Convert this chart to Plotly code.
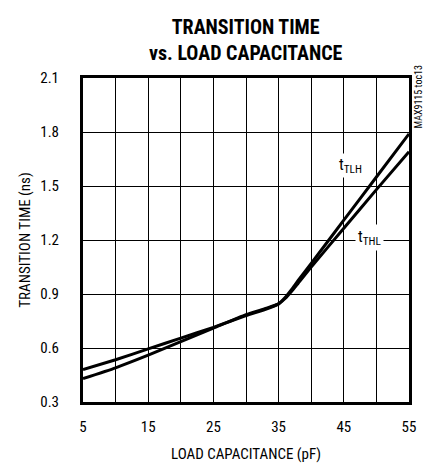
import plotly.graph_objects as go

# Data
load_pf = [5, 10, 15, 20, 25, 30, 33, 35, 36, 37, 38, 40, 45, 50, 55]
t_thl = [0.48, 0.535, 0.595, 0.655, 0.715, 0.78, 0.815, 0.845, 0.875, 0.915, 0.96, 1.05, 1.265, 1.48, 1.69]
t_tlh = [0.43, 0.49, 0.56, 0.635, 0.71, 0.785, 0.82, 0.845, 0.88, 0.925, 0.975, 1.07, 1.31, 1.55, 1.79]

x_ticks = [5, 15, 25, 35, 45, 55]
y_ticks = [0.3, 0.6, 0.9, 1.2, 1.5, 1.8, 2.1]
y_tick_text = ["0.3", "0.6", "0.9", "1.2", "1.5", "1.8", "2.1"]

FONT = "Roboto Condensed, Liberation Sans Narrow, Roboto, sans-serif"

fig = go.Figure()
for name, ys in [("tTHL", t_thl), ("tTLH", t_tlh)]:
    fig.add_trace(go.Scatter(
        x=load_pf, y=ys, mode="lines", name=name,
        line=dict(color="black", width=3, shape="spline", smoothing=0.5),
        showlegend=False, hoverinfo="skip"))

fig.update_layout(
    template="none",
    width=425, height=465,
    margin=dict(l=83, r=16, t=78, b=63),
    paper_bgcolor="white", plot_bgcolor="white",
    font=dict(family=FONT, size=15, color="black"),
    title=dict(
        text="<b>TRANSITION TIME<br>vs. LOAD CAPACITANCE</b>",
        x=0.578, xanchor="center", y=0.926, yanchor="top",
        font=dict(family=FONT, size=20, color="black", weight=900)),
)

fig.update_xaxes(
    range=[5, 55],
    tickvals=list(range(5, 56, 5)),
    ticktext=[str(v) if v in x_ticks else "" for v in range(5, 56, 5)],
    showgrid=True, gridcolor="black", gridwidth=1,
    showline=True, linecolor="black", linewidth=3, mirror=True,
    ticks="", ticklabelstandoff=9, zeroline=False, automargin=False,
    title=dict(text="LOAD CAPACITANCE (pF)", standoff=14, font=dict(size=15)),
    tickfont=dict(size=15))

fig.update_yaxes(
    range=[0.3, 2.1], tickvals=y_ticks, ticktext=y_tick_text,
    showgrid=True, gridcolor="black", gridwidth=1,
    showline=True, linecolor="black", linewidth=3, mirror=True,
    ticks="", ticklabelstandoff=18, zeroline=False, automargin=False,
    title=dict(text="TRANSITION TIME (ns)", standoff=6, font=dict(size=15)),
    tickfont=dict(size=15))

fig.add_annotation(x=46.1, y=1.615, text="t<sub>TLH</sub>", showarrow=False,
                   font=dict(size=16, color="black"), bgcolor="white",
                   xanchor="center", yanchor="middle")
fig.add_annotation(x=49.0, y=1.215, text="t<sub>THL</sub>", showarrow=False,
                   font=dict(size=16, color="black"), bgcolor="white",
                   borderpad=2, xanchor="center", yanchor="middle")
fig.add_annotation(xref="paper", yref="paper", x=1.0, y=0.94, xshift=9,
                   text="MAX9115 toc13", textangle=-90, showarrow=False,
                   font=dict(size=10, color="black"), xanchor="center", yanchor="middle")

fig.write_html("out.html", config={"displayModeBar": False},
               post_script="document.body.style.margin='0';")
